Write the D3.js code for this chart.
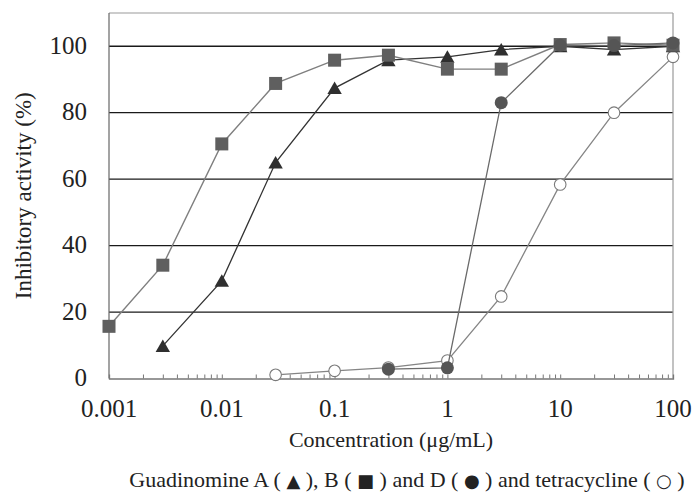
<!DOCTYPE html>
<html><head><meta charset="utf-8">
<script src="https://cdn.jsdelivr.net/npm/d3@7"></script>
<style>
body{margin:0;background:#fff}
svg{display:block}
svg text{font-family:"Liberation Serif",Tinos,"Times New Roman" !important}
svg text tspan.sym{font-family:"DejaVu Sans" !important}
</style>
</head><body>
<script>
const concentrations = [0.001, 0.003, 0.01, 0.03, 0.1, 0.3, 1, 3, 10, 30, 100];
const guadA = [null, 9.8, 29.4, 65, 87.4, 95.8, 96.8, 99, 100, 99, 100];
const guadB = [15.7, 34.1, 70.6, 88.8, 95.8, 97.3, 93.1, 93.1, 100.5, 101, 100.3];
const guadD = [null, null, null, null, null, 2.8, 3.2, 83, 100.3, 100.2, 101];
const tetracycline = [null, null, null, 1.1, 2.3, 3.3, 5.4, 24.7, 58.4, 80, 96.8];
const yTicks = [0, 20, 40, 60, 80, 100];
const xTickLabels = ["0.001", "0.01", "0.1", "1", "10", "100"];

const W = 695, H = 503;
const m = {left: 109, right: 673, top: 13, bottom: 378.5};
const svg = d3.select("body").append("svg").attr("width", W).attr("height", H);
const x = d3.scaleLog().domain([0.001, 100]).range([m.left, m.right]);
const y = d3.scaleLinear().domain([0, 110]).range([m.bottom, m.top]);

svg.append("g").selectAll("line").data(yTicks.filter(d => d > 0)).join("line")
  .attr("x1", m.left).attr("x2", m.right).attr("y1", d => y(d)).attr("y2", d => y(d))
  .attr("stroke", "#1a1a1a").attr("stroke-width", 1.3);
svg.append("line").attr("x1", m.left).attr("x2", m.right).attr("y1", m.top).attr("y2", m.top).attr("stroke", "#999").attr("stroke-width", 1.2);
svg.append("line").attr("x1", m.right).attr("x2", m.right).attr("y1", m.top).attr("y2", m.bottom).attr("stroke", "#999").attr("stroke-width", 1.2);
svg.append("line").attr("x1", m.left).attr("x2", m.left).attr("y1", m.top).attr("y2", m.bottom).attr("stroke", "#666").attr("stroke-width", 1.2);

const minor = [];
for (let e = -3; e < 2; e++) for (let k = 1; k <= 9; k++) { const v = k * Math.pow(10, e); if (v > 0.001 && v < 100) minor.push(v); }
const xAxis = d3.axisBottom(x).tickValues(minor).tickSize(-4).tickFormat("");
const gx = svg.append("g").attr("transform", `translate(0,${m.bottom})`).call(xAxis);
gx.select(".domain").attr("stroke", "#777").attr("stroke-width", 1.3);
gx.selectAll(".tick line").attr("stroke", "#777").attr("stroke-width", 1);

svg.append("g").selectAll("text").data(xTickLabels).join("text")
  .attr("x", d => x(+d)).attr("y", 417).attr("text-anchor", "middle")
  .attr("font-family", "Liberation Serif").attr("font-size", 25).attr("fill", "#222").text(d => d);
svg.append("g").selectAll("text").data(yTicks).join("text")
  .attr("x", 87).attr("y", d => y(d)).attr("dy", "0.3em").attr("text-anchor", "end")
  .attr("font-family", "Liberation Serif").attr("font-size", 25).attr("fill", "#222").text(d => d);

svg.append("text").attr("transform", `translate(31,${(m.top + m.bottom) / 2}) rotate(-90)`)
  .attr("text-anchor", "middle").attr("font-family", "Liberation Serif").attr("font-size", 23).attr("fill", "#222")
  .text("Inhibitory activity (%)");
svg.append("text").attr("x", (m.left + m.right) / 2).attr("y", 447).attr("text-anchor", "middle")
  .attr("font-family", "Liberation Serif").attr("font-size", 22).attr("fill", "#222").text("Concentration (μg/mL)");
const leg = svg.append("text").attr("x", 407).attr("y", 487).attr("text-anchor", "middle")
  .attr("font-family", "Liberation Serif").attr("font-size", 22).attr("fill", "#222");
leg.append("tspan").text("Guadinomine A ( ");
leg.append("tspan").attr("class", "sym").attr("font-size", 18).text("▲");
leg.append("tspan").text(" ), B ( ");
leg.append("tspan").attr("class", "sym").attr("font-size", 18).text("■");
leg.append("tspan").text(" ) and D ( ");
leg.append("tspan").attr("class", "sym").attr("font-size", 18).text("●");
leg.append("tspan").text(" ) and tetracycline ( ");
leg.append("tspan").attr("class", "sym").attr("font-size", 18).text("○");
leg.append("tspan").text(" )");

function series(vals) { return concentrations.map((c, i) => ({c, v: vals[i]})).filter(d => d.v != null); }
const line = d3.line().x(d => x(d.c)).y(d => y(d.v));

const sT = series(tetracycline);
svg.append("path").datum(sT).attr("d", line).attr("fill", "none").attr("stroke", "#858585").attr("stroke-width", 1.3);
svg.append("g").selectAll("circle").data(sT).join("circle")
  .attr("cx", d => x(d.c)).attr("cy", d => y(d.v)).attr("r", 5.8)
  .attr("fill", "#fff").attr("stroke", "#7a7a7a").attr("stroke-width", 1.1);

const sA = series(guadA);
svg.append("path").datum(sA).attr("d", line).attr("fill", "none").attr("stroke", "#333").attr("stroke-width", 1.3);
svg.append("g").selectAll("path").data(sA).join("path")
  .attr("transform", d => `translate(${x(d.c)},${y(d.v)})`)
  .attr("d", "M0,-6.5L7.2,6L-7.2,6Z").attr("fill", "#2f2f2f");

const sB = series(guadB);
svg.append("path").datum(sB).attr("d", line).attr("fill", "none").attr("stroke", "#7f7f7f").attr("stroke-width", 1.4);
svg.append("g").selectAll("rect").data(sB).join("rect")
  .attr("x", d => x(d.c) - 6.5).attr("y", d => y(d.v) - 6.5).attr("width", 13).attr("height", 13)
  .attr("fill", "#5f5f5f");

const sD = series(guadD);
svg.append("path").datum(sD).attr("d", line).attr("fill", "none").attr("stroke", "#6a6a6a").attr("stroke-width", 1.3);
svg.append("g").selectAll("circle").data(sD).join("circle")
  .attr("cx", d => x(d.c)).attr("cy", d => y(d.v)).attr("r", 6.5).attr("fill", "#555");
</script>
</body></html>
